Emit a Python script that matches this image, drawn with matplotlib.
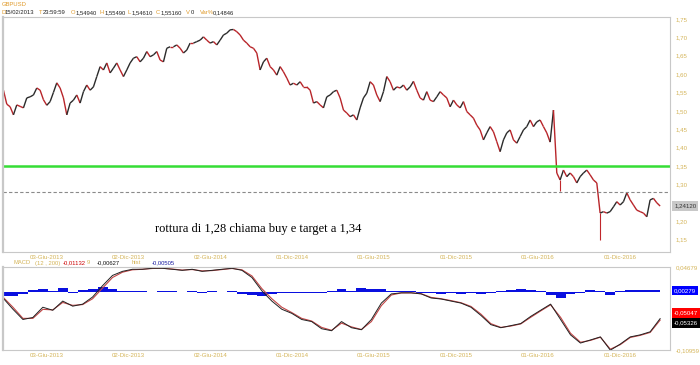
import matplotlib
matplotlib.use("Agg")
import matplotlib.pyplot as plt
import matplotlib.dates as mdates
from matplotlib.collections import LineCollection
import numpy as np
from datetime import datetime

GOLD = "#d4b458"
ORANGE = "#e09a2a"

# weekly-ish closes, GBPUSD feb 2013 -> feb 2017
close = [
    1.556, 1.518, 1.511, 1.489, 1.516, 1.512, 1.508, 1.535, 1.538, 1.543,
    1.562, 1.556, 1.530, 1.515, 1.525, 1.550, 1.576, 1.562, 1.535, 1.489,
    1.521, 1.529, 1.543, 1.521, 1.552, 1.570, 1.556, 1.565, 1.593, 1.620,
    1.611, 1.630, 1.603, 1.616, 1.630, 1.611, 1.593, 1.611, 1.630, 1.643,
    1.647, 1.633, 1.643, 1.661, 1.647, 1.652, 1.661, 1.638, 1.633, 1.670,
    1.674, 1.674, 1.679, 1.670, 1.657, 1.665, 1.684, 1.684, 1.688, 1.692,
    1.701, 1.692, 1.684, 1.688, 1.679, 1.692, 1.706, 1.711, 1.720, 1.721,
    1.715, 1.706, 1.692, 1.684, 1.674, 1.670, 1.657, 1.611, 1.633, 1.643,
    1.620, 1.611, 1.597, 1.620, 1.606, 1.589, 1.570, 1.575, 1.570, 1.579,
    1.565, 1.565, 1.556, 1.521, 1.525, 1.516, 1.508, 1.538, 1.543, 1.552,
    1.556, 1.535, 1.502, 1.494,
    1.484, 1.489, 1.475, 1.508, 1.535, 1.548, 1.579, 1.570, 1.543, 1.525,
    1.552, 1.593, 1.579, 1.556, 1.565, 1.562, 1.570, 1.556, 1.565, 1.580,
    1.556, 1.535, 1.529, 1.552, 1.529, 1.525, 1.538, 1.552, 1.543, 1.535,
    1.511, 1.529, 1.516, 1.508, 1.525, 1.498, 1.489, 1.480, 1.461, 1.448,
    1.421, 1.440, 1.457, 1.443, 1.416, 1.389, 1.421, 1.440, 1.448, 1.421,
    1.412, 1.430, 1.448, 1.457, 1.475, 1.457, 1.470, 1.475, 1.457, 1.440,
    1.415, 1.502, 1.331, 1.312, 1.339, 1.321, 1.331, 1.321, 1.304, 1.321,
    1.331, 1.339, 1.326, 1.312, 1.304, 1.222, 1.226, 1.222, 1.226, 1.239,
    1.253, 1.244, 1.253, 1.277, 1.258, 1.244, 1.230, 1.226, 1.222, 1.212,
    1.258, 1.262, 1.250, 1.2412,
]
# long wicks (brexit, flash crash)
wick_at = [167, 179]
wick_low = [1.283, 1.149]

macd = [
    -0.0116, -0.0328, -0.0521, -0.0483, -0.0290, -0.0347, -0.0174, -0.0270, -0.0232, -0.0097,
    0.0116, 0.0309, 0.0386, 0.0425, 0.0425, 0.0444, 0.0444, 0.0425, 0.0405, 0.0425,
    0.0386, 0.0405, 0.0425, 0.0444, 0.0405, 0.0270, 0.0019, -0.0174, -0.0328, -0.0405,
    -0.0521, -0.0560, -0.0695, -0.0733, -0.0560, -0.0676, -0.0714, -0.0521, -0.0212, -0.0039,
    -0.0019, -0.0019, -0.0039, -0.0116, -0.0135, -0.0174, -0.0212, -0.0290, -0.0444, -0.0618,
    -0.0676, -0.0637, -0.0598, -0.0463, -0.0347, -0.0232, -0.0521, -0.0811, -0.0965, -0.0907,
    -0.0849, -0.1100, -0.0984, -0.0849, -0.0811, -0.0753, -0.05047,
]
signal = [
    -0.0100, -0.0290, -0.0500, -0.0500, -0.0330, -0.0340, -0.0200, -0.0255, -0.0240, -0.0130,
    0.0070, 0.0270, 0.0370, 0.0415, 0.0425, 0.0440, 0.0444, 0.0430, 0.0410, 0.0420,
    0.0395, 0.0400, 0.0420, 0.0440, 0.0415, 0.0300, 0.0060, -0.0130, -0.0290, -0.0390,
    -0.0500, -0.0550, -0.0670, -0.0725, -0.0590, -0.0660, -0.0710, -0.0560, -0.0260, -0.0060,
    -0.0020, -0.0019, -0.0035, -0.0105, -0.0130, -0.0165, -0.0205, -0.0275, -0.0420, -0.0600,
    -0.0670, -0.0645, -0.0605, -0.0480, -0.0360, -0.0245, -0.0480, -0.0780, -0.0950, -0.0915,
    -0.0855, -0.1080, -0.0995, -0.0860, -0.0820, -0.0765, -0.05326,
]
hist = [
    -0.008, -0.008, -0.004, 0.003, 0.006, 0.001, 0.007, -0.003, 0.003, 0.006,
    0.009, 0.005, 0.002, 0.001, 0.002, -0.001, 0.002, 0.001, -0.001, 0.002,
    -0.002, 0.001, -0.001, 0.001, -0.004, -0.006, -0.007, -0.004, -0.003, -0.003,
    -0.003, -0.002, -0.003, 0.002, 0.006, 0.002, 0.007, 0.005, 0.006, 0.002,
    0.001, 0.002, -0.002, -0.003, -0.004, -0.003, -0.004, -0.002, -0.005, -0.003,
    0.001, 0.003, 0.005, 0.003, 0.002, -0.006, -0.012, -0.004, -0.002, 0.004,
    0.002, -0.006, 0.001, 0.003, 0.003, 0.004, 0.00279,
]

tick_dates = ["2013-06-03", "2013-12-02", "2014-06-02", "2014-12-01",
              "2015-06-01", "2015-12-01", "2016-06-01", "2016-12-01"]
tick_labels = ["03-Giu-2013", "02-Dic-2013", "02-Giu-2014", "01-Dic-2014",
               "01-Giu-2015", "01-Dic-2015", "01-Giu-2016", "01-Dic-2016"]
price_ticks = [1.15, 1.20, 1.30, 1.35, 1.40, 1.45, 1.50, 1.55, 1.60, 1.65, 1.70, 1.75]

support = 1.28
target = 1.35

plt.rcParams["font.family"] = ["Liberation Sans", "DejaVu Sans"]

d0 = mdates.date2num(datetime(2013, 2, 26))
d1 = mdates.date2num(datetime(2017, 2, 28))
t = np.linspace(d0, d1, len(close))
tm = np.linspace(mdates.date2num(datetime(2013, 2, 25)), d1, len(macd))
xlim = (mdates.date2num(datetime(2013, 2, 25)), mdates.date2num(datetime(2017, 3, 22)))
ticks = [mdates.date2num(datetime.strptime(s, "%Y-%m-%d")) for s in tick_dates]

fig = plt.figure(figsize=(7, 3.65), dpi=100)
ax = fig.add_axes([3 / 700, 1 - 252 / 365, 667 / 700, 235 / 365])
mx = fig.add_axes([3 / 700, 1 - 350 / 365, 667 / 700, 83 / 365])

# price
c = np.array(close)
pts = np.column_stack([t, c]).reshape(-1, 1, 2)
segs = np.concatenate([pts[:-1], pts[1:]], axis=1)
cols = ["#2b2b2b" if b > a else "#b8252a" for a, b in zip(c[:-1], c[1:])]
ax.add_collection(LineCollection(segs, colors=cols, linewidths=1.0))
for i, lo in zip(wick_at, wick_low):
    ax.vlines(t[i], lo, c[i], color="#c0262b", lw=0.8)

ax.axhline(target, color="#35dd35", lw=1.8)
ax.axhline(support, color="#8a8a8a", lw=0.8, ls=(0, (3, 2)))

ax.set_xlim(xlim)
ax.set_ylim(1.1163, 1.7549)
ax.yaxis.tick_right()
ax.set_yticks(price_ticks)
ax.set_yticklabels([f"{v:.2f}".replace(".", ",") for v in price_ticks])
ax.set_xticks(ticks)
ax.set_xticklabels(tick_labels)
ax.tick_params(length=0, labelsize=4.4, labelcolor=GOLD)
ax.tick_params(axis="y", pad=4)
ax.tick_params(axis="x", pad=2)

ax.annotate(f"{close[-1]:.5f}".replace(".", ","), xy=(1, close[-1]),
            xycoords=("axes fraction", "data"), xytext=(3, 0), textcoords="offset points",
            ha="left", va="center", fontsize=4.4, color="#333333", annotation_clip=False,
            bbox=dict(boxstyle="square,pad=0.35", fc="#c8c8c8", ec="none"))

ax.text(0.228, 0.085, "rottura di 1,28 chiama buy e target a 1,34", transform=ax.transAxes,
        fontsize=9, family="Liberation Serif", color="black", va="baseline")

# macd
mx.fill_between(tm, 0, hist, step="mid", color="#0a10e0", lw=0)
mx.plot(tm, signal, color="#c24545", lw=0.8)
mx.plot(tm, macd, color="#222222", lw=0.7)
mx.set_xlim(xlim)
mx.set_ylim(-0.10959, 0.04679)
mx.yaxis.tick_right()
mx.set_yticks([0.04679, -0.10959])
mx.set_yticklabels(["0,04679", "-0,10959"])
mx.set_xticks(ticks)
mx.set_xticklabels(tick_labels)
mx.tick_params(length=0, labelsize=4.4, labelcolor=GOLD)
mx.tick_params(axis="y", pad=4)
mx.tick_params(axis="x", pad=2)

for val, dy, fc in [(hist[-1], 0, "#0000ff"), (macd[-1], 4, "#ff0000"), (signal[-1], -2, "#000000")]:
    mx.annotate(f"{val:.5f}".replace(".", ","), xy=(1, val), xycoords=("axes fraction", "data"),
                xytext=(3, dy), textcoords="offset points", ha="left", va="center",
                fontsize=4.4, color="white", annotation_clip=False,
                bbox=dict(boxstyle="square,pad=0.35", fc=fc, ec="none"))

for a in (ax, mx):
    for s in a.spines.values():
        s.set_color("#c8c8c8")
        s.set_linewidth(0.8)
    a.spines["left"].set_linewidth(1.6)

# header texts
def put(x, y, s, color):
    fig.text(x / 700, 1 - y / 365, s, fontsize=4.2, color=color, va="center", ha="left")

put(2, 4, "GBPUSD", ORANGE)
head = [(1, "D", ORANGE), (5, "15/02/2013", "#222222"), (39, "T", ORANGE), (43, "23:59:59", "#222222"),
        (71, "O", ORANGE), (76, "1,54940", "#222222"), (100, "H", ORANGE), (104.5, "1,55490", "#222222"),
        (128, "L", ORANGE), (132, "1,54610", "#222222"), (156, "C", ORANGE), (161, "1,55160", "#222222"),
        (186, "V", ORANGE), (191, "0", "#222222"), (200, "Var%", ORANGE), (213, "0,14846", "#222222")]
for x, s, col in head:
    put(x, 13, s, col)

mhead = [(13, "MACD", GOLD), (35, "(12 , 200)", GOLD), (63, "-0,01132", "#cc0000"), (87, "9", GOLD),
         (97, "-0,00627", "#111111"), (132, "hist", GOLD), (152, "-0,00505", "#1a1aa0")]
for x, s, col in mhead:
    put(x, 263, s, col)

fig.savefig("out.png", dpi=100)
